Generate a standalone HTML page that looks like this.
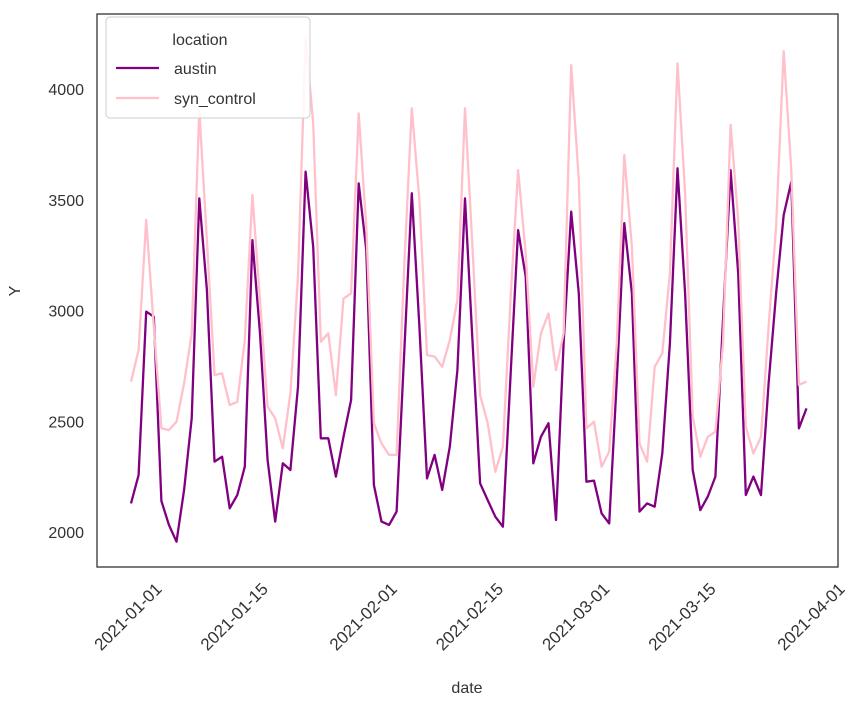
<!DOCTYPE html>
<html><head><meta charset="utf-8">
<style>
html,body{margin:0;padding:0;background:#fff;}
svg{display:block;font-family:"Liberation Sans",sans-serif;}
</style></head>
<body>
<svg id="chart" width="857" height="708" viewBox="0 0 857 708" xmlns="http://www.w3.org/2000/svg">
  <rect x="0" y="0" width="857" height="708" fill="#fff"/>
  <g id="plot"></g>
  <rect x="97" y="14" width="741" height="553" fill="none" stroke="#333" stroke-width="1.3"/>
  <g id="yticks"></g>
  <g id="xticks"></g>
  <text x="20" y="291" font-size="16" fill="#333" text-anchor="middle" transform="rotate(-90 20 291)">Y</text>
  <text x="467" y="693" font-size="16" fill="#333" text-anchor="middle">date</text>
  <g>
    <rect x="106" y="17" width="204" height="101" rx="4" fill="#fff" fill-opacity="0.85" stroke="#ccc"/>
    <text x="200" y="45" font-size="16" fill="#333" text-anchor="middle">location</text>
    <g>
      <line x1="116" y1="68" x2="159" y2="68" stroke="#800080" stroke-width="2.2"/>
      <text x="174" y="74" font-size="16" fill="#333">austin</text>
    </g>
    <g>
      <line x1="116" y1="98" x2="159" y2="98" stroke="#ffc0cb" stroke-width="2.2"/>
      <text x="174" y="104" font-size="16" fill="#333">syn_control</text>
    </g>
  </g>
</svg>
<script>
const startDate = "2020-12-29";
const austin = [2129,2257,2995,2972,2140,2032,1956,2190,2513,3506,3093,2318,2340,2107,2167,2295,3318,2897,2325,2047,2310,2280,
2656,3627,3288,2423,2423,2250,2430,2596,3574,3273,2212,2047,2032,2092,2807,3529,2927,2242,2348,2190,2385,2731,3506,
2852,2220,2144,2069,2024,2701,3363,3153,2310,2430,2491,2054,2852,3446,3077,2227,2232,2084,2039,2686,3394,3077,2092,
2129,2114,2355,2852,3642,3077,2280,2099,2160,2250,2957,3634,3168,2167,2250,2167,2671,3077,3431,3581,2468,2558];
const synControl = [2679,2822,3409,2927,2468,2460,2498,2671,2897,3905,3318,2709,2716,2573,2588,2867,3521,3047,2566,2513,2378,2626,
3153,4230,3845,2859,2897,2618,3054,3077,3890,3378,2491,2400,2348,2348,3198,3913,3499,2799,2792,2746,2867,3047,3913,
3273,2618,2491,2272,2385,3047,3634,3258,2656,2897,2987,2731,2897,4108,3589,2468,2498,2295,2363,2852,3702,3288,2400,
2318,2746,2807,3168,4116,3529,2521,2340,2430,2453,2852,3838,3409,2475,2355,2430,2927,3378,4170,3634,2664,2679];
const yTickValues = [2000,2500,3000,3500,4000];
const xTickLabels = ["2021-01-01","2021-01-15","2021-02-01","2021-02-15","2021-03-01","2021-03-15","2021-04-01"];

const NS = "http://www.w3.org/2000/svg";
const DAY = 86400000;
const t0 = Date.parse(startDate);
function xScale(dayIndex){ return 131 + dayIndex * 7.59; }
function yScale(v){ return 532 - (v - 2000) * 0.2215; }
function dayOf(s){ return (Date.parse(s) - t0) / DAY; }

const plot = document.getElementById('plot');
function drawSeries(vals, color, name){
  const p = document.createElementNS(NS,'polyline');
  p.setAttribute('points', vals.map((v,i)=>xScale(i).toFixed(1)+','+yScale(v).toFixed(1)).join(' '));
  p.setAttribute('fill','none');
  p.setAttribute('stroke',color);
  p.setAttribute('stroke-width','2.3');
  p.setAttribute('stroke-linejoin','round');
  
  
  plot.appendChild(p);
}
drawSeries(austin, '#800080', 'austin-line');
drawSeries(synControl, '#ffc0cb', 'syn-control-line');

const yg = document.getElementById('yticks');
yTickValues.forEach(v=>{
  const t = document.createElementNS(NS,'text');
  t.setAttribute('x', 84);
  t.setAttribute('y', yScale(v) + 6);
  t.setAttribute('font-size','16');
  t.setAttribute('fill','#333');
  t.setAttribute('text-anchor','end');
  t.textContent = v;
  
  
  yg.appendChild(t);
});
const xg = document.getElementById('xticks');
xTickLabels.forEach(s=>{
  const x = Math.min(xScale(dayOf(s)), 838);
  const t = document.createElementNS(NS,'text');
  const tx = x + 9, ty = 590;
  t.setAttribute('x', tx);
  t.setAttribute('y', ty);
  t.setAttribute('font-size','17');
  t.setAttribute('fill','#333');
  t.setAttribute('text-anchor','end');
  t.setAttribute('transform', 'rotate(-45 '+tx+' '+ty+')');
  t.textContent = s;
  
  
  xg.appendChild(t);
});
</script>
</body></html>
